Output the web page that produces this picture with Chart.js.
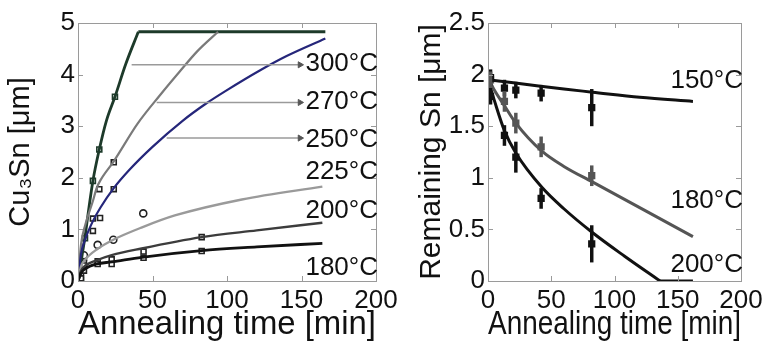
<!DOCTYPE html>
<html>
<head>
<meta charset="utf-8">
<script src="https://cdn.jsdelivr.net/npm/chart.js@4.4.1/dist/chart.umd.min.js"></script>
<style>
    html, body { margin: 0; padding: 0; background: #fff; }
    body { width: 767px; height: 346px; position: relative; overflow: hidden; }
    #cu3sn { position: absolute; left: 0; top: 0; }
    #sn { position: absolute; left: 410px; top: 0; }
</style>
</head>
<body>
<canvas id="cu3sn" width="410" height="346"></canvas>
<canvas id="sn" width="357" height="346"></canvas>
<script>
// ---- left panel: Cu3Sn thickness [um] vs annealing time [min] ----
const xTicks = [0, 50, 100, 150, 200];

const t300 = [0, 1, 2.5, 4.7, 7, 10, 14.3, 19, 24.8, 32, 40.5];
const fit300 = [0, 0.1, 0.45, 0.85, 1.35, 1.94, 2.55, 3.1, 3.57, 4.2, 4.83];
const tCap = [40.5, 166];          // 300°C plateau (full consumption)
const cap = [4.83, 4.83];
const t270 = [0, 2, 5, 10, 12.5, 15, 24, 40, 55, 68, 80, 94];
const fit270 = [0, 0.7, 1.1, 1.55, 1.8, 1.95, 2.32, 3.05, 3.6, 4.05, 4.45, 4.83];
const t250 = [0, 2, 5, 10, 15, 24, 35, 50, 70, 86, 100, 122, 140, 166];
const fit250 = [0, 0.52, 0.82, 1.16, 1.42, 1.8, 2.17, 2.6, 3.1, 3.44, 3.7, 4.08, 4.36, 4.7];
const t225 = [0, 2, 5, 13, 23.7, 43, 65, 110, 164];
const fit225 = [0, 0.28, 0.42, 0.62, 0.8, 1.04, 1.27, 1.58, 1.83];
const tLow = [0, 2, 5, 12.5, 22.6, 42.7, 83, 120, 164];
const fit200 = [0, 0.2, 0.3, 0.4, 0.5, 0.63, 0.85, 0.98, 1.13];
const fit180 = [0, 0.15, 0.24, 0.33, 0.37, 0.46, 0.59, 0.66, 0.73];

// measured points
const m300t = [2, 4.7, 10, 14.3, 24.8];
const m300 = [0.02, 0.83, 1.94, 2.55, 3.57];
const m270t = [4, 10, 14.3, 24];
const m270 = [0.45, 1.21, 1.78, 2.3];
const m250t = [4, 10, 14.8, 24];
const m250 = [0.35, 0.97, 1.22, 1.78];
const m225t = [4, 13.2, 23.7, 43.8];
const m225 = [0.5, 0.7, 0.8, 1.31];
const mLowT = [2, 4, 13.2, 22.6, 44, 83];
const m200 = [0.15, 0.3, 0.38, 0.42, 0.57, 0.85];
const m180 = [0.05, 0.2, 0.33, 0.33, 0.45, 0.58];

// label arrows (y level, start time, end time)
const arrowY = [4.19, 3.46, 2.77];
const arrowFrom = [36, 52.8, 59.5];
const arrowTo = 149;
const leftNames = ['300°C', '270°C', '250°C', '225°C', '200°C', '180°C'];
const leftNameY = [4.2, 3.47, 2.73, 2.11, 1.36, 0.25];

// ---- right panel: remaining Sn [um] ----
const tSn = [0, 20, 40, 60, 82.5, 120, 162];
const fit150 = [1.95, 1.92, 1.89, 1.86, 1.83, 1.78, 1.74];
const t180 = [0, 5, 12.9, 22, 42.4, 60, 82.5, 105, 129, 162];
const fit180r = [1.97, 1.85, 1.7, 1.53, 1.26, 1.11, 0.96, 0.81, 0.65, 0.43];
const t200 = [0, 5, 12.9, 22, 42.4, 60, 82.5, 108, 136];
const fit200r = [1.95, 1.75, 1.46, 1.24, 0.91, 0.7, 0.47, 0.24, 0];
const tEnd = [136, 162];           // 200°C: Sn fully consumed
const gone = [0, 0];

const mSnT = [2, 13, 22, 42, 82];
const m150 = [1.97, 1.87, 1.85, 1.82, 1.68];
const e150 = [0.08, 0.08, 0.08, 0.08, 0.18];
const m180r = [1.95, 1.74, 1.53, 1.3, 1.02];
const e180r = [0.08, 0.1, 0.1, 0.1, 0.1];
const m200r = [1.79, 1.41, 1.2, 0.8, 0.36];
const e200r = [0.08, 0.1, 0.15, 0.1, 0.18];
const rightNames = ['150°C', '180°C', '200°C'];
const rightNameY = [1.94, 0.78, 0.155];

Chart.defaults.font.family = '"Liberation Sans", Arial, sans-serif';
Chart.defaults.color = '#111';

const pts = (xs, ys) => xs.map((x, i) => ({ x: x, y: ys[i] }));

function curve(xs, ys, color, width) {
    return {
        data: pts(xs, ys), borderColor: color, borderWidth: width,
        pointRadius: 0, cubicInterpolationMode: 'monotone', fill: false
    };
}

function marks(xs, ys, style, color, fillColor, r) {
    return {
        data: pts(xs, ys), showLine: false, pointStyle: style, pointRadius: r,
        pointBorderColor: color, pointBackgroundColor: fillColor, pointBorderWidth: 1.6
    };
}

// MATLAB-like box with inward ticks, curve labels and error bars
const plotDecor = {
    id: 'plotDecor',
    afterDatasetsDraw(chart, args, opts) {
        const { ctx, chartArea: a, scales } = chart;
        ctx.save();

        chart.data.datasets.forEach((ds, i) => {
            if (!ds.errors) return;
            const meta = chart.getDatasetMeta(i);
            ctx.strokeStyle = ds.pointBackgroundColor;
            ctx.lineWidth = 3.5;
            meta.data.forEach((p, j) => {
                const v = ds.data[j].y, e = ds.errors[j];
                ctx.beginPath();
                ctx.moveTo(p.x, scales.y.getPixelForValue(v + e));
                ctx.lineTo(p.x, scales.y.getPixelForValue(v - e));
                ctx.stroke();
            });
        });

        ctx.strokeStyle = '#9a9a9a';
        ctx.lineWidth = 1;
        ctx.strokeRect(a.left + 0.5, a.top + 0.5, a.right - a.left, a.bottom - a.top);
        ctx.beginPath();
        scales.x.ticks.forEach(t => {
            const x = Math.round(scales.x.getPixelForValue(t.value)) + 0.5;
            ctx.moveTo(x, a.bottom); ctx.lineTo(x, a.bottom - 5);
            ctx.moveTo(x, a.top); ctx.lineTo(x, a.top + 5);
        });
        scales.y.ticks.forEach(t => {
            const y = Math.round(scales.y.getPixelForValue(t.value)) + 0.5;
            ctx.moveTo(a.left, y); ctx.lineTo(a.left + 5, y);
            ctx.moveTo(a.right, y); ctx.lineTo(a.right - 5, y);
        });
        ctx.stroke();

        ctx.fillStyle = '#111';
        ctx.font = '26px "Liberation Sans", Arial, sans-serif';
        ctx.textAlign = 'right';
        ctx.textBaseline = 'middle';
        opts.names.forEach((n, i) => {
            ctx.fillText(n, a.right + 2, scales.y.getPixelForValue(opts.levels[i]));
        });
        ctx.restore();
    }
};

function axes(yMax, yStep, yTitle, yTitleSize) {
    return {
        x: {
            type: 'linear', min: 0, max: 200,
            afterBuildTicks: s => { s.ticks = xTicks.map(v => ({ value: v })); },
            ticks: { font: { size: 26 }, padding: 4, maxRotation: 0, autoSkip: false },
            grid: { display: false, drawTicks: false },
            border: { display: false },
            title: { display: true, text: 'Annealing time [min]', font: { size: 33 }, padding: { top: 0, bottom: 1 } },
            afterFit: s => { s.height = 65; }
        },
        y: {
            min: 0, max: yMax,
            ticks: { stepSize: yStep, font: { size: 26 }, padding: 3, callback: v => String(v) },
            grid: { display: false, drawTicks: false },
            border: { display: false },
            title: { display: true, text: yTitle, font: { size: yTitleSize }, padding: { top: 4, bottom: 0 } },
            afterFit: s => { s.width = 78; }
        }
    };
}

const baseOpts = (pad, yMax, yStep, yTitle, yTitleSize, names, levels) => ({
    responsive: false,
    animation: false,
    layout: { padding: pad },
    plugins: { legend: { display: false }, tooltip: { enabled: false }, plotDecor: { names: names, levels: levels } },
    scales: axes(yMax, yStep, yTitle, yTitleSize)
});

const arrowSets = arrowY.map((y, i) => ({
    data: pts([arrowFrom[i], arrowTo], [y, y]),
    borderColor: '#9a9a9a', borderWidth: 1.5,
    pointRadius: [0, 3.5], pointStyle: 'triangle', rotation: 90,
    pointBackgroundColor: '#555', pointBorderColor: '#555', pointBorderWidth: 1
}));

new Chart(document.getElementById('cu3sn'), {
    type: 'line',
    data: {
        datasets: [
            ...arrowSets,
            curve(tLow, fit180, '#111111', 2.8),
            curve(tLow, fit200, '#3c3c3c', 2.4),
            curve(t225, fit225, '#9a9a9a', 2.4),
            curve(t250, fit250, '#25267a', 2.2),
            curve(t270, fit270, '#7a7a7a', 2.2),
            curve(t300, fit300, '#1d3a2a', 2.8),
            curve(tCap, cap, '#1d3a2a', 2.8),
            marks(mLowT, m180, 'rect', '#222', '#fff', 3.5),
            marks(mLowT, m200, 'rect', '#222', '#fff', 3.5),
            marks(m225t, m225, 'circle', '#222', '#fff', 3.5),
            marks(m250t, m250, 'rect', '#222', '#fff', 3.5),
            marks(m270t, m270, 'rect', '#222', '#fff', 3.5),
            marks(m300t, m300, 'rect', '#1d3a2a', '#fff', 3.5)
        ]
    },
    options: baseOpts({ top: 23, right: 34, left: 0, bottom: 0 }, 5, 1, 'Cu₃Sn [μm]', 29, leftNames, leftNameY),
    plugins: [plotDecor]
});

const errMarks = (ys, errs, color) => Object.assign(marks(mSnT, ys, 'rect', color, color, 4), { errors: errs });

new Chart(document.getElementById('sn'), {
    type: 'line',
    data: {
        datasets: [
            curve(tSn, fit150, '#111111', 3),
            curve(t180, fit180r, '#555555', 3),
            curve(t200, fit200r, '#111111', 3),
            curve(tEnd, gone, '#111111', 3),
            errMarks(m150, e150, '#111'),
            errMarks(m180r, e180r, '#555'),
            errMarks(m200r, e200r, '#111')
        ]
    },
    options: baseOpts({ top: 23, right: 26, left: 0, bottom: 0 }, 2.5, 0.5, 'Remaining Sn [μm]', 30, rightNames, rightNameY),
    plugins: [plotDecor]
});
</script>
</body>
</html>
